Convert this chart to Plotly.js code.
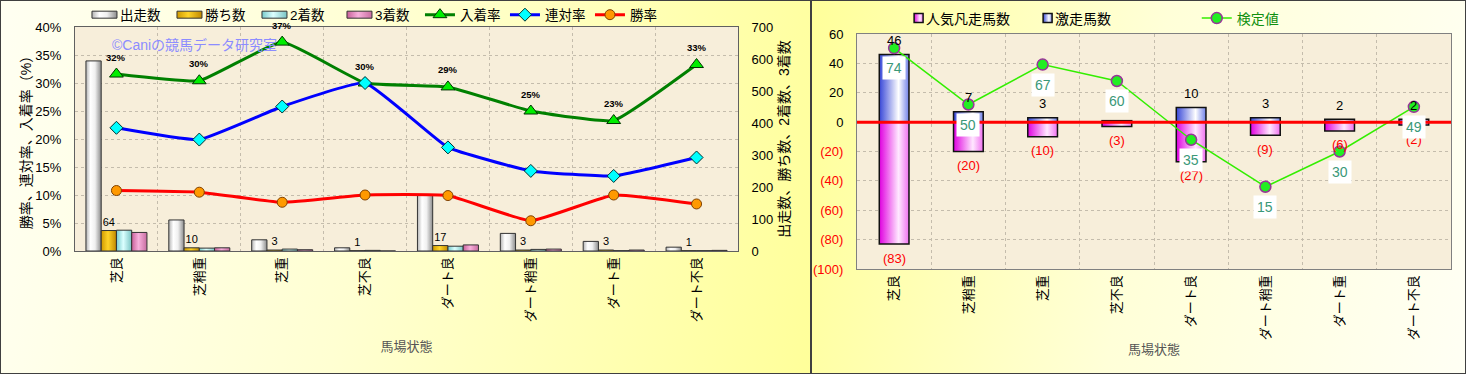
<!DOCTYPE html>
<html><head><meta charset="utf-8">
<script src="https://cdn.plot.ly/plotly-3.0.1.min.js"></script>
<style>
body{margin:0;width:1466px;height:374px;overflow:hidden;background:#fff;position:relative;}
#left{position:absolute;left:0;top:0;width:811px;height:374px;background:linear-gradient(100deg,#FFFFF2 0%,#FFFFD2 45%,#FFFF9A 100%);}
#right{position:absolute;left:811px;top:0;width:655px;height:374px;background:linear-gradient(100deg,#FFFF9A 0%,#FFFFD8 50%,#FFFFF4 100%);}
.frame{position:absolute;top:0;height:372px;border:1px solid #404040;pointer-events:none;}
</style></head>
<body>
<svg width="0" height="0" style="position:absolute;left:0;top:0">
<defs>
<linearGradient id="gStart" x1="0" y1="0" x2="1" y2="0"><stop offset="0" stop-color="#B4B4B4"/><stop offset="0.3" stop-color="#FFFFFF"/><stop offset="0.6" stop-color="#F0F0F0"/><stop offset="1" stop-color="#8C8C8C"/></linearGradient>
<linearGradient id="gWin" x1="0" y1="0" x2="1" y2="0"><stop offset="0" stop-color="#D09A00"/><stop offset="0.45" stop-color="#FFD428"/><stop offset="1" stop-color="#C08800"/></linearGradient>
<linearGradient id="g2nd" x1="0" y1="0" x2="1" y2="0"><stop offset="0" stop-color="#78CCCC"/><stop offset="0.45" stop-color="#DCFFFF"/><stop offset="1" stop-color="#78C4C4"/></linearGradient>
<linearGradient id="g3rd" x1="0" y1="0" x2="1" y2="0"><stop offset="0" stop-color="#C8609A"/><stop offset="0.45" stop-color="#F8B0DC"/><stop offset="1" stop-color="#C86CA0"/></linearGradient>
<linearGradient id="gSurge" x1="0" y1="0" x2="1" y2="0"><stop offset="0" stop-color="#3848D8"/><stop offset="0.65" stop-color="#FFFFFF"/><stop offset="1" stop-color="#7080E8"/></linearGradient>
<linearGradient id="gLoss" x1="0" y1="0" x2="1" y2="0"><stop offset="0" stop-color="#E000E0"/><stop offset="0.65" stop-color="#FFE8FF"/><stop offset="1" stop-color="#F070F0"/></linearGradient>
</defs></svg>
<div id="left"></div><div id="right"></div>
<div class="frame" style="left:0;width:809px"></div>
<div class="frame" style="left:811px;width:653px"></div>
<script>
// ---------- data ----------
const categories = ['芝良','芝稍重','芝重','芝不良','ダート良','ダート稍重','ダート重','ダート不良'];
// left chart
const starts  = [594, 97, 35, 10, 175, 55, 30, 12];   // 出走数
const wins    = [64, 10, 3, 1, 17, 3, 3, 1];          // 勝ち数
const seconds = [65, 9, 6, 2, 15, 5, 1, 1];           // 2着数
const thirds  = [58, 10, 4, 0, 19, 6, 3, 2];          // 3着数
const placeRate  = [31.6, 30.4, 37.3, 30.0, 29.3, 25.0, 23.3, 33.3]; // 入着率
const rentaiRate = [22.0, 19.9, 25.8, 30.0, 18.5, 14.3, 13.4, 16.7]; // 連対率
const winRate    = [10.8, 10.5, 8.7, 10.0, 9.9, 5.4, 10.0, 8.4];     // 勝率
const placeLabels = ['32%','30%','37%','30%','29%','25%','23%','33%'];
// right chart
const popularLoss = [-83, -20, -10, -3, -27, -9, -6, -2]; // 人気凡走馬数
const surge       = [46, 7, 3, 1, 10, 3, 2, 2];           // 激走馬数
const testValue   = [74, 50, 67, 60, 35, 15, 30, 49];     // 検定値
const rightTickVals = [-100, -80, -60, -40, -20, 0, 20, 40, 60];
const rightTickText = ['(100)','(80)','(60)','(40)','(20)','0','20','40','60'];

// ---------- style ----------
const FONT = '"Liberation Sans", "Noto Sans CJK JP", sans-serif';
const GRID = '#C4BCAC';
const barLine = {color:'#333333', width:1};

// ---------- left chart ----------
const leftTraces = [
  {type:'bar', name:'出走数', x:categories, y:starts, yaxis:'y', marker:{color:'#E6E6E6', line:barLine}, hoverinfo:'none'},
  {type:'bar', name:'勝ち数', x:categories, y:wins, yaxis:'y', marker:{color:'#F0C000', line:barLine},
   text:wins.map(String), textposition:'outside', textfont:{size:11,color:'#000'}, constraintext:'none', cliponaxis:false, hoverinfo:'none'},
  {type:'bar', name:'2着数', x:categories, y:seconds, yaxis:'y', marker:{color:'#B8F0F0', line:barLine}, hoverinfo:'none'},
  {type:'bar', name:'3着数', x:categories, y:thirds, yaxis:'y', marker:{color:'#E890C8', line:barLine}, hoverinfo:'none'},
  {type:'scatter', mode:'lines+markers', name:'入着率', x:categories, y:placeRate, yaxis:'y2',
   line:{color:'#008000', width:3, shape:'spline', smoothing:0.35},
   marker:{symbol:'triangle-up', size:12, color:'#00EE00', line:{color:'#003300', width:1}}, hoverinfo:'none'},
  {type:'scatter', mode:'lines+markers', name:'連対率', x:categories, y:rentaiRate, yaxis:'y2',
   line:{color:'#0000FF', width:3, shape:'spline', smoothing:0.35},
   marker:{symbol:'diamond', size:10, color:'#00FFFF', line:{color:'#003030', width:1}}, hoverinfo:'none'},
  {type:'scatter', mode:'lines+markers', name:'勝率', x:categories, y:winRate, yaxis:'y2',
   line:{color:'#FF0000', width:3, shape:'spline', smoothing:0.35},
   marker:{symbol:'circle', size:10, color:'#FF9900', line:{color:'#804000', width:1}}, hoverinfo:'none'}
];

const leftAnn = [{
  text:'©Caniの競馬データ研究室', xref:'paper', yref:'paper', x:0.053, y:0.92, xanchor:'left', yanchor:'middle',
  showarrow:false, font:{size:14, color:'#8C8CFF'}
}];
placeRate.forEach((v,i)=>leftAnn.push({
  x:categories[i], y:v, xref:'x', yref:'y2', text:'<b>'+placeLabels[i]+'</b>', showarrow:false, yshift:17,
  font:{size:9.5, color:'#000'}
}));

const leftLayout = {
  width:811, height:374, margin:{l:75, r:73, t:27, b:123, autoexpand:false},
  paper_bgcolor:'rgba(0,0,0,0)', plot_bgcolor:'#F7EEDA',
  font:{family:FONT, size:13, color:'#000'},
  barmode:'group', bargap:0.264, bargroupgap:0,
  showlegend:true,
  legend:{orientation:'h', x:0.0075, xanchor:'left', y:1.054, yanchor:'middle', font:{size:13.5}, bgcolor:'rgba(0,0,0,0)',
    traceorder:'normal', entrywidth:40, entrywidthmode:'pixels'},
  xaxis:{type:'category', tickson:'boundaries', showgrid:true, gridcolor:GRID, griddash:'dot', tickangle:-90,
    showline:true, linecolor:'#606060', mirror:true, ticks:'', tickfont:{size:13},
    title:{text:'馬場状態', font:{size:13, color:'#555'}, standoff:20}},
  yaxis:{range:[0,700], dtick:100, side:'right', showgrid:false, showline:true, linecolor:'#606060', zeroline:false,
    ticks:'', ticklabelstandoff:10, tickfont:{size:13},
    title:{text:'出走数、勝ち数、2着数、3着数', font:{size:14}, standoff:6}},
  yaxis2:{range:[0,40], dtick:5, ticksuffix:'%', overlaying:'y', side:'left', showgrid:true, gridcolor:GRID, griddash:'dot',
    showline:true, linecolor:'#606060', zeroline:false, ticks:'', ticklabelstandoff:10, tickfont:{size:13},
    title:{text:'勝率、連対率、入着率（%）', font:{size:14}, standoff:0}},
  annotations:leftAnn
};

// ---------- right chart ----------
const rightTraces = [
  {type:'bar', name:'人気凡走馬数', x:categories, y:popularLoss, width:0.4, marker:{color:'#F080F0', line:{color:'#111', width:1.5}}, hoverinfo:'none'},
  {type:'bar', name:'激走馬数', x:categories, y:surge, width:0.4, marker:{color:'#A0A8F0', line:{color:'#111', width:1.5}}, hoverinfo:'none'},
  {type:'scatter', mode:'lines+markers', name:'<span style="color:#109010">検定値</span>', x:categories, y:testValue, yaxis:'y2', legend:'legend2',
   line:{color:'#33EE00', width:1.5}, marker:{symbol:'circle', size:11, color:'#22EE22', line:{color:'#993399', width:1.5}}, hoverinfo:'none'}
];
const rightAnn = [];
surge.forEach((v,i)=>rightAnn.push({x:categories[i], y:v, xref:'x', yref:'y', text:String(v), showarrow:false, yshift:14, font:{size:13, color:'#000'}}));
popularLoss.forEach((v,i)=>rightAnn.push({x:categories[i], y:v, xref:'x', yref:'y', text:'('+(-v)+')', showarrow:false, yshift:-14, font:{size:13, color:'#FF0000'}}));
testValue.forEach((v,i)=>rightAnn.push({x:categories[i], y:v, xref:'x', yref:'y2', text:String(v), showarrow:false, yshift:-20,
  font:{size:14, color:'#3A9878'}, bgcolor:'#FFFFFF', borderpad:3}));

const rightLayout = {
  width:655, height:374, margin:{l:46, r:15, t:34, b:105, autoexpand:false},
  paper_bgcolor:'rgba(0,0,0,0)', plot_bgcolor:'#F7EEDA',
  font:{family:FONT, size:13, color:'#000'},
  barmode:'relative',
  showlegend:true,
  legend:{orientation:'h', x:0.049, xanchor:'left', y:1.066, yanchor:'middle', font:{size:14}, bgcolor:'rgba(0,0,0,0)', traceorder:'normal'},
  legend2:{orientation:'h', x:0.572, xanchor:'left', y:1.066, yanchor:'middle', font:{size:14}, bgcolor:'rgba(0,0,0,0)'},
  xaxis:{type:'category', tickson:'boundaries', showgrid:true, gridcolor:GRID, griddash:'dot', tickangle:-90,
    showline:true, linecolor:'#808080', mirror:true, ticks:'', tickfont:{size:13},
    title:{text:'馬場状態', font:{size:13, color:'#555'}, standoff:5}},
  yaxis:{range:[-100,60], tickvals:rightTickVals, ticktext:rightTickText.map(t=>t.startsWith('(')?'<span style="color:#FF0000">'+t+'</span>':t),
    showgrid:true, gridcolor:GRID, griddash:'dot', zeroline:false, showline:true, linecolor:'#808080', mirror:true,
    ticks:'', ticklabelstandoff:10, tickfont:{size:13}},
  yaxis2:{range:[-20,80], overlaying:'y', side:'right', visible:false},
  shapes:[{type:'line', xref:'paper', x0:0, x1:1, yref:'y', y0:0, y1:0, line:{color:'#FF0000', width:3}, layer:'above'}],
  annotations:rightAnn
};

function applyFills(id, fills, legendD){
  const gd = document.getElementById(id);
  gd.querySelectorAll('.barlayer .trace.bars').forEach((tr,i)=>{
    if(fills[i]) tr.querySelectorAll('.point path').forEach(p=>{p.style.fill='url(#'+fills[i]+')';});
  });
  const legends = gd.querySelectorAll('.legend');
  if(legends.length){
    legends[0].querySelectorAll('.traces').forEach((it,i)=>{
      if(fills[i]) it.querySelectorAll('.legendpoints path').forEach(p=>{
        p.style.fill='url(#'+fills[i]+')';
        if(legendD) p.setAttribute('d', legendD);
      });
    });
  }
}

const cfg = {staticPlot:true, displayModeBar:false, responsive:false};
Plotly.newPlot('left', leftTraces, leftLayout, cfg).then(()=>applyFills('left', ['gStart','gWin','g2nd','g3rd'], 'M-8,-3.5H17V3.5H-8Z'));
Plotly.newPlot('right', rightTraces, rightLayout, cfg).then(()=>applyFills('right', ['gLoss','gSurge'], 'M8,-4.5H17V4.5H8Z'));
</script>
</body></html>
